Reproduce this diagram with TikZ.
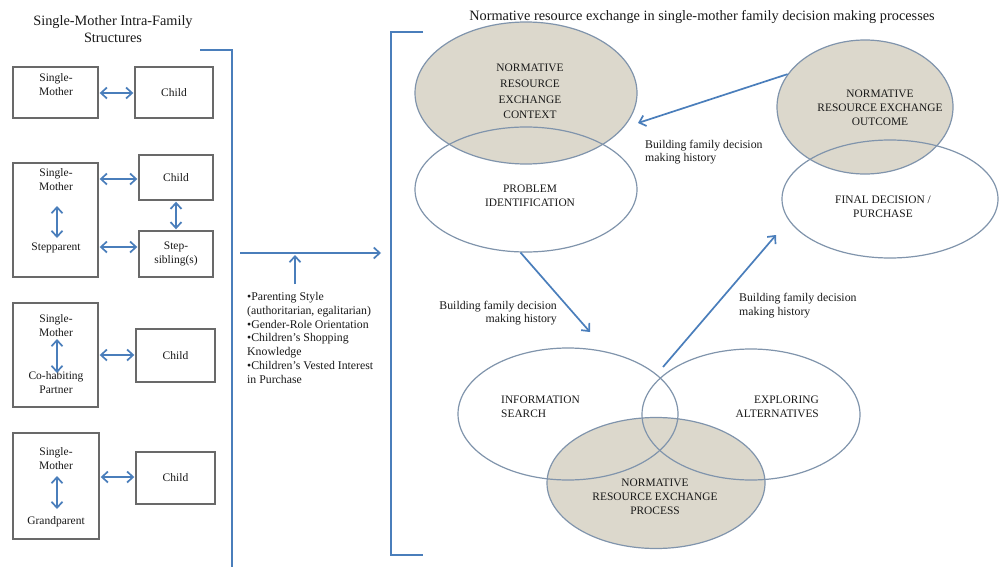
\documentclass[tikz,border=0pt]{standalone}
\usepackage{fontspec}
\setmainfont{Liberation Serif}
\usetikzlibrary{arrows.meta,shapes.geometric}
\definecolor{arrblue}{RGB}{74,126,187}
\definecolor{boxgray}{RGB}{105,105,105}
\definecolor{ellline}{RGB}{128,148,172}
\definecolor{ellfill}{RGB}{220,216,204}
\definecolor{txt}{RGB}{25,25,25}
\tikzset{
  famBox/.style={draw=boxgray, line width=1.4pt, fill=white, inner sep=0pt},
  lbl/.style={text=txt, font=\fontsize{11.5}{14}\selectfont, align=center, inner sep=0pt},
  titleTxt/.style={text=txt, font=\fontsize{14.3}{16.5}\selectfont, align=center, inner sep=0pt},
  smallTxt/.style={text=txt, font=\fontsize{11.8}{13.7}\selectfont, inner sep=0pt},
  darr/.style={arrblue, line width=1.7pt, {Straight Barb[length=6pt,width=11pt]}-{Straight Barb[length=6pt,width=11pt]}},
  sarr/.style={arrblue, line width=1.7pt, -{Straight Barb[length=6pt,width=11pt]}},
  bracket/.style={arrblue, line width=1.5pt},
  shadeEll/.style={ellipse, draw=ellline, line width=1.2pt, fill=ellfill, inner sep=0pt},
  plainEll/.style={ellipse, draw=ellline, line width=1.2pt, inner sep=0pt},
  ellTxt/.style={text=txt, font=\fontsize{11.4}{14}\selectfont, align=center, inner sep=0pt},
}
\begin{document}
\begin{tikzpicture}[x=1pt,y=-1pt]
\useasboundingbox (0,0) rectangle (1001,570);
\fill[white] (0,0) rectangle (1001,570);

% titles
\node[titleTxt] (ltitle) at (113,29) {Single-Mother Intra-Family\\Structures};
\node[titleTxt] (rtitle) at (702,17) {Normative resource exchange in single-mother family decision making processes};

% ---- family structures ----
\node[famBox, minimum width=85pt, minimum height=51pt] (sm1) at (55.5,92.5) {};
\node[lbl] (sm1t) at (56,85) {Single-\\Mother};
\node[famBox, lbl, minimum width=78pt, minimum height=51pt] (ch1) at (174,92.5) {Child};
\coordinate (h1) at (0,93);
\draw[darr, shorten <=1pt, shorten >=1pt] (sm1.east |- h1) -- (ch1.west |- h1);

\node[famBox, minimum width=85pt, minimum height=114pt] (sm2) at (55.5,220) {};
\node[lbl] (sm2t) at (56,179.5) {Single-\\Mother};
\node[lbl] (sp2t) at (56,248) {Stepparent};
\coordinate (v2a) at (57,206);
\coordinate (v2b) at (57,238);
\draw[darr] (v2a) -- (v2b);
\node[famBox, lbl, minimum width=74pt, minimum height=45pt] (ch2) at (176,177.5) {Child};
\node[famBox, lbl, minimum width=74pt, minimum height=46pt] (st2) at (176,254) {Step-\\sibling(s)};
\coordinate (h2a) at (0,179);
\coordinate (h2b) at (0,247);
\draw[darr, shorten <=1pt, shorten >=1pt] (sm2.east |- h2a) -- (ch2.west |- h2a);
\draw[darr, shorten <=1pt, shorten >=1pt] (sm2.east |- h2b) -- (st2.west |- h2b);
\draw[darr, shorten <=1pt, shorten >=1pt] (ch2.south) -- (st2.north);

\node[famBox, minimum width=85pt, minimum height=104pt] (sm3) at (55.5,355) {};
\node[lbl] (sm3t) at (56,325.5) {Single-\\Mother};
\node[lbl] (cp3t) at (56,383) {Co-habiting\\Partner};
\coordinate (v3a) at (57,339);
\coordinate (v3b) at (57,373);
\draw[darr] (v3a) -- (v3b);
\node[famBox, lbl, minimum width=79pt, minimum height=53pt] (ch3) at (175.5,355.5) {Child};
\coordinate (h3) at (0,355);
\draw[darr, shorten <=1pt, shorten >=1pt] (sm3.east |- h3) -- (ch3.west |- h3);

\node[famBox, minimum width=86pt, minimum height=106pt] (sm4) at (56,486) {};
\node[lbl] (sm4t) at (56,458.5) {Single-\\Mother};
\node[lbl] (gp4t) at (56,522) {Grandparent};
\coordinate (v4a) at (57,476);
\coordinate (v4b) at (57,509);
\draw[darr] (v4a) -- (v4b);
\node[famBox, lbl, minimum width=79pt, minimum height=52pt] (ch4) at (175.5,478) {Child};
\coordinate (h4) at (0,477);
\draw[darr, shorten <=1pt, shorten >=1pt] (sm4.east |- h4) -- (ch4.west |- h4);

% ---- brackets ----
\coordinate (lb1) at (200,50);
\coordinate (lb2) at (232,50);
\coordinate (lb3) at (232,567);
\draw[bracket] (lb1) -- (lb2) -- (lb3);
\coordinate (rb1) at (423,32);
\coordinate (rb2) at (391,32);
\coordinate (rb3) at (391,555);
\coordinate (rb4) at (423,555);
\draw[bracket] (rb1) -- (rb2) -- (rb3) -- (rb4);

% ---- middle ----
\coordinate (ma1) at (240,253);
\coordinate (ma2) at (381,253);
\draw[sarr] (ma1) -- (ma2);
\coordinate (mv1) at (295,284);
\coordinate (mv2) at (295,255);
\draw[sarr] (mv1) -- (mv2);
\node[smallTxt, align=left, anchor=north west] (bul) at (247,292.5) {%
•Parenting Style\\
(authoritarian, egalitarian)\\
•Gender-Role Orientation\\
•Children’s Shopping\\
Knowledge\\
•Children’s Vested Interest\\
in Purchase};

% ---- ellipses ----
\node[shadeEll, minimum width=222pt, minimum height=142pt] (e1) at (526,93) {};
\node[shadeEll, minimum width=176pt, minimum height=134pt] (e3) at (865,107) {};
\node[shadeEll, minimum width=218pt, minimum height=131pt] (e7) at (656,483) {};
\node[plainEll, minimum width=222pt, minimum height=125pt] (e2) at (526,189.5) {};
\node[plainEll, minimum width=216pt, minimum height=118pt] (e4) at (890,199) {};
\node[plainEll, minimum width=220pt, minimum height=132pt] (e5) at (568,414) {};
\node[plainEll, minimum width=218pt, minimum height=131pt] (e6) at (751,414.5) {};

\node[ellTxt, font=\fontsize{11.4}{15.6}\selectfont] (e1t) at (530,91.5) {NORMATIVE\\RESOURCE\\EXCHANGE\\CONTEXT};
\node[ellTxt] (e2t) at (530,195.5) {PROBLEM\\IDENTIFICATION};
\node[ellTxt] (e3t) at (880,108) {NORMATIVE\\RESOURCE EXCHANGE\\OUTCOME};
\node[ellTxt] (e4t) at (883,207) {FINAL DECISION /\\PURCHASE};
\node[ellTxt, align=left, anchor=west] (e5t) at (501,407) {INFORMATION\\SEARCH};
\node[ellTxt, align=right, anchor=east] (e6t) at (819,407) {EXPLORING\\ALTERNATIVES};
\node[ellTxt] (e7t) at (655,497) {NORMATIVE\\RESOURCE EXCHANGE\\PROCESS};

% ---- process arrows ----
\coordinate (a1h) at (638,123);
\draw[sarr] (e3.157) -- (a1h);
\coordinate (a2h) at (590,332);
\draw[sarr] (e2.-95) -- (a2h);
\coordinate (a3t) at (663,367);
\coordinate (a3h) at (776,235);
\draw[sarr] (a3t) -- (a3h);

\node[smallTxt, align=left, anchor=west] (l1) at (645,152) {Building family decision\\making history};
\node[smallTxt, align=right, anchor=east] (l2) at (557,313) {Building family decision\\making history};
\node[smallTxt, align=left, anchor=west] (l3) at (739,305.5) {Building family decision\\making history};
\end{tikzpicture}
\end{document}
